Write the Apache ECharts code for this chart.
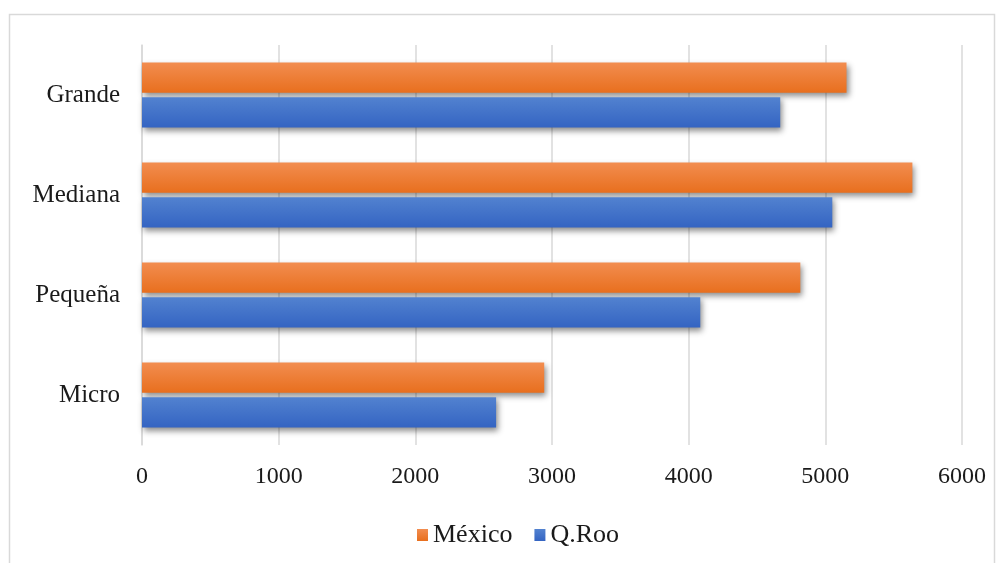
<!DOCTYPE html>
<html><head><meta charset="utf-8">
<script src="https://cdn.jsdelivr.net/npm/echarts@6/dist/echarts.min.js"></script>
<style>html,body{margin:0;padding:0;background:#fff}#c{width:1003px;height:563px}</style>
</head><body><div id="c"></div>
<script>
const categories = ['Grande', 'Mediana', 'Pequeña', 'Micro'];
const mexico = [5155, 5637, 4817, 2943];
const qroo = [4670, 5051, 4085, 2591];
const xTicks = [0, 1000, 2000, 3000, 4000, 5000, 6000];

const font = 'Liberation Serif';
function grad(a, b) {
  return new echarts.graphic.LinearGradient(0, 0, 0, 1, [{offset: 0, color: a}, {offset: 1, color: b}]);
}
const chart = echarts.init(document.getElementById('c'));
chart.setOption({
  animation: false,
  backgroundColor: '#fff',
  graphic: [{type: 'rect', shape: {x: 9.5, y: 14.5, width: 985, height: 560}, style: {fill: 'none', stroke: '#d9d9d9', lineWidth: 1.5}}],
  grid: {left: 142, right: 41, top: 45, bottom: 118},
  legend: {
    data: ['México', 'Q.Roo'], top: 517, left: 412, icon: 'rect', itemWidth: 11, itemHeight: 12, itemGap: 22,
    textStyle: {fontFamily: font, fontSize: 26, color: '#1a1a1a'}
  },
  xAxis: {
    type: 'value', min: 0, max: 6000, interval: 1000,
    axisLine: {show: false}, axisTick: {show: false},
    splitLine: {lineStyle: {color: '#d9d9d9', width: 1.5}},
    axisLabel: {fontFamily: font, fontSize: 24, color: '#1a1a1a', margin: 20, formatter: v => xTicks.includes(v) ? String(v) : ''}
  },
  yAxis: {
    type: 'category', data: categories, inverse: true,
    axisLine: {show: true, lineStyle: {color: '#d9d9d9', width: 1.5}}, axisTick: {show: false},
    axisLabel: {fontFamily: font, fontSize: 25, color: '#1a1a1a', margin: 22}
  },
  series: [
    {name: 'México', type: 'bar', data: mexico, barCategoryGap: '35%', barGap: '15%',
     itemStyle: {color: grad('#f28d50', '#e86f1e'), shadowColor: 'rgba(0,0,0,0.45)', shadowBlur: 6, shadowOffsetX: 2, shadowOffsetY: 3}},
    {name: 'Q.Roo', type: 'bar', data: qroo, barCategoryGap: '35%', barGap: '15%',
     itemStyle: {color: grad('#5282d0', '#3464c2'), shadowColor: 'rgba(0,0,0,0.45)', shadowBlur: 6, shadowOffsetX: 2, shadowOffsetY: 3}}
  ]
});
</script></body></html>
